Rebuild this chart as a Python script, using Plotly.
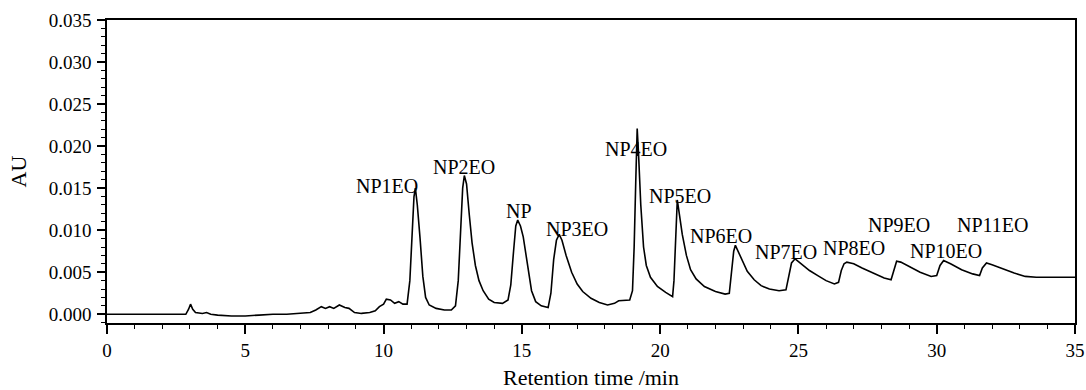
import plotly.graph_objects as go

# HPLC chromatogram of nonylphenol ethoxylates (NPnEO)
retention_time = [
    0.0, 2.85, 2.95, 3.02, 3.10, 3.20, 3.45, 3.60, 3.75, 4.0, 4.5, 5.0, 5.5, 6.0, 6.5,
    7.0, 7.35, 7.55, 7.75, 7.9, 8.05, 8.2, 8.4, 8.6, 8.75, 8.95, 9.2, 9.5, 9.7, 9.85,
    10.0, 10.1, 10.25, 10.4, 10.55, 10.7, 10.85, 10.95, 11.03, 11.10, 11.15, 11.22,
    11.32, 11.42, 11.52, 11.65, 11.9, 12.2, 12.45, 12.6, 12.7, 12.78, 12.86, 12.92,
    13.0, 13.1, 13.2, 13.32, 13.45, 13.6, 13.8, 14.0, 14.3, 14.5, 14.6, 14.7, 14.78,
    14.85, 14.95, 15.05, 15.15, 15.25, 15.35, 15.5, 15.7, 15.95, 16.05, 16.15, 16.25,
    16.35, 16.45, 16.6, 16.8, 17.0, 17.2, 17.5, 17.8, 18.1, 18.35, 18.5, 18.9, 19.0,
    19.06, 19.12, 19.17, 19.22, 19.3, 19.4, 19.5, 19.65, 19.9, 20.2, 20.45, 20.5,
    20.56, 20.62, 20.7, 20.8, 20.95, 21.1, 21.3, 21.6, 22.0, 22.35, 22.5, 22.58, 22.66,
    22.72, 22.8, 22.95, 23.15, 23.4, 23.65, 23.95, 24.3, 24.55, 24.65, 24.75, 24.88,
    25.1, 25.4, 25.7, 26.0, 26.3, 26.45, 26.55, 26.65, 26.75, 27.0, 27.3, 27.7, 28.1,
    28.35, 28.45, 28.55, 28.7, 29.0, 29.4, 29.8, 30.0, 30.12, 30.25, 30.5, 30.9, 31.3,
    31.55, 31.65, 31.8, 32.0, 32.4, 32.8, 33.2, 33.6, 34.3, 35.0,
]
absorbance = [
    0.0000, 0.0000, 0.0006, 0.0012, 0.0006, 0.0002, 0.0001, 0.0002, 0.0000, -0.0001,
    -0.0002, -0.0002, -0.0001, 0.0000, 0.0000, 0.0001, 0.0002, 0.0005, 0.0009, 0.0007,
    0.0009, 0.0007, 0.0011, 0.0008, 0.0007, 0.0002, 0.0001, 0.0002, 0.0004, 0.0009,
    0.0012, 0.0018, 0.0017, 0.0013, 0.0015, 0.0012, 0.0012, 0.0040, 0.0090, 0.0140,
    0.0150, 0.0130, 0.0090, 0.0045, 0.0020, 0.0011, 0.0007, 0.0005, 0.0005, 0.0010,
    0.0040, 0.0090, 0.0150, 0.0165, 0.0155, 0.0118, 0.0085, 0.0058, 0.0040, 0.0028,
    0.0018, 0.0014, 0.0013, 0.0017, 0.0035, 0.0075, 0.0105, 0.0112, 0.0105, 0.0092,
    0.0070, 0.0048, 0.0028, 0.0015, 0.0010, 0.0008, 0.0025, 0.0065, 0.0088, 0.0095,
    0.0088, 0.0070, 0.0050, 0.0036, 0.0027, 0.0019, 0.0014, 0.0011, 0.0013, 0.0016,
    0.0017, 0.0028, 0.0080, 0.0160, 0.0221, 0.0190, 0.0130, 0.0080, 0.0058, 0.0044,
    0.0033, 0.0026, 0.0021, 0.0040, 0.0095, 0.0136, 0.0118, 0.0095, 0.0070, 0.0053,
    0.0042, 0.0033, 0.0027, 0.0024, 0.0025, 0.0050, 0.0075, 0.0082, 0.0076, 0.0064,
    0.0051, 0.0041, 0.0034, 0.0030, 0.0028, 0.0029, 0.0045, 0.0061, 0.0066, 0.0060,
    0.0052, 0.0046, 0.0040, 0.0036, 0.0038, 0.0052, 0.0060, 0.0062, 0.0060, 0.0055,
    0.0049, 0.0043, 0.0041, 0.0053, 0.0063, 0.0062, 0.0057, 0.0050, 0.0045, 0.0046,
    0.0058, 0.0064, 0.0060, 0.0053, 0.0048, 0.0046, 0.0055, 0.0061, 0.0059, 0.0054,
    0.0049, 0.0045, 0.0044, 0.0044, 0.0044,
]

# Peak names and where each name is written
peak_names = ["NP1EO", "NP2EO", "NP", "NP3EO", "NP4EO", "NP5EO", "NP6EO",
              "NP7EO", "NP8EO", "NP9EO", "NP10EO", "NP11EO"]
name_x = [10.12, 12.91, 14.90, 17.00, 19.13, 20.72, 22.20, 24.55, 27.00, 28.64, 30.34, 32.00]
name_y = [0.0152, 0.0175, 0.0123, 0.0102, 0.0196, 0.0141, 0.0093, 0.0074, 0.0079, 0.0106, 0.0075, 0.0106]

FONT = "Liberation Serif, Times New Roman, serif"

fig = go.Figure()
fig.add_trace(go.Scatter(
    x=retention_time, y=absorbance, mode="lines",
    line=dict(color="black", width=1.6), showlegend=False, hoverinfo="skip",
))

for name, xn, yn in zip(peak_names, name_x, name_y):
    fig.add_annotation(x=xn, y=yn, xref="x", yref="y", text=name, showarrow=False,
                       font=dict(family=FONT, size=20, color="black"))

fig.update_layout(
    width=1086, height=390,
    margin=dict(l=107, r=11, t=20, b=67),
    plot_bgcolor="white", paper_bgcolor="white",
    font=dict(family=FONT, size=19, color="black"),
    xaxis=dict(
        range=[0, 35], dtick=5, tick0=0, showgrid=False, zeroline=False,
        showline=True, linecolor="black", linewidth=1.5, mirror=True,
        ticks="outside", ticklen=9, tickwidth=1.5, tickcolor="black",
        minor=dict(dtick=1, ticks="outside", ticklen=4, tickwidth=1, tickcolor="black"),
        title=dict(text="Retention time /min", font=dict(size=22), standoff=14),
        automargin=False,
    ),
    yaxis=dict(
        range=[-0.00104, 0.035], dtick=0.005, tick0=0, tickformat=".3f",
        showgrid=False, zeroline=False,
        showline=True, linecolor="black", linewidth=1.5, mirror=True,
        ticks="outside", ticklen=8, tickwidth=1.5, tickcolor="black",
        minor=dict(dtick=0.001, ticks="outside", ticklen=4, tickwidth=1, tickcolor="black"),
        ticklabelstandoff=2,
        title=dict(text="AU", font=dict(size=22), standoff=16),
        automargin=False,
    ),
)

fig.write_html("out.html")
